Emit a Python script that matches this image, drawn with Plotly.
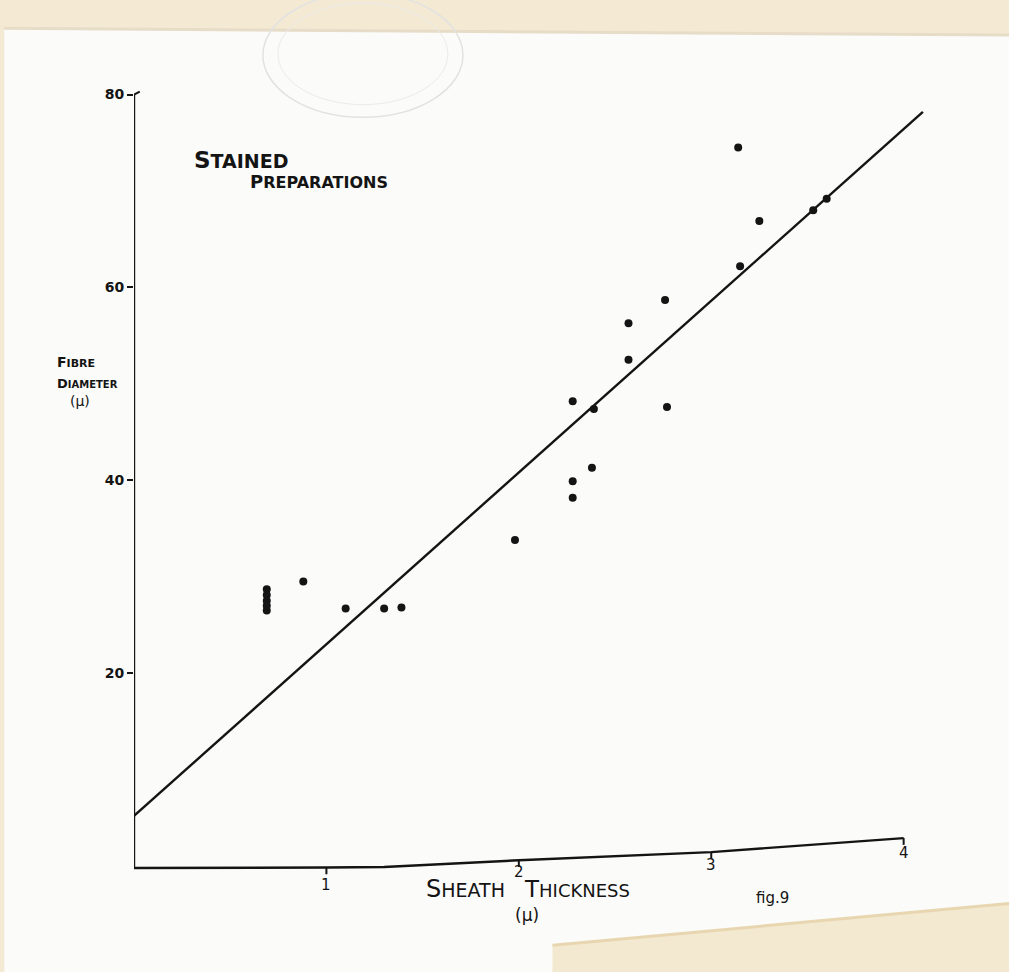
import plotly.graph_objects as go

# Sheath thickness (µ) against fibre diameter (µ), stained preparations
sheath = [0.69, 0.69, 0.69, 0.69, 0.69, 0.88, 1.10, 1.30, 1.39,
          1.98, 2.28, 2.28, 2.28, 2.38, 2.39, 2.57, 2.57, 2.76, 2.77,
          3.14, 3.15, 3.25, 3.53, 3.60]
diameter = [28.7, 28.1, 27.5, 27.0, 26.5, 29.5, 26.7, 26.7, 26.8,
            33.8, 48.2, 39.9, 38.2, 41.3, 47.4, 56.3, 52.5, 58.7, 47.6,
            74.5, 62.2, 66.9, 68.0, 69.2]

# fitted straight line
fit_x = [0.0, 4.10]
fit_y = [5.2, 78.2]

# hand-ruled abscissa (drifts upward toward the right)
axis_x = [0, 1, 1.3, 2, 3, 4]
axis_y = [-0.2, -0.15, -0.1, 0.6, 1.45, 2.9]
x_tick_vals = [1, 2, 3, 4]
x_tick_base = [-0.15, 0.6, 1.45, 2.9]
x_tick_labels = ["1", "2", "3", "4"]
x_label_y = [-2.0, -0.6, 0.1, 1.35]

y_ticks = [20, 40, 60, 80]

INK = "#141414"
FONT = "DejaVu Sans"

fig = go.Figure()

fig.add_trace(go.Scatter(x=fit_x, y=fit_y, mode="lines",
                         line=dict(color=INK, width=2.4),
                         hoverinfo="skip", cliponaxis=False))
fig.add_trace(go.Scatter(x=sheath, y=diameter, mode="markers",
                         marker=dict(color=INK, size=8),
                         cliponaxis=False))

shapes = []
# paper background tones
shapes.append(dict(type="path", xref="paper", yref="paper",
                   path="M -0.161 1.07 L 1.046 1.07 L 1.046 1.025 L -0.161 1.033 Z",
                   fillcolor="#f4e9d3", line=dict(width=0), layer="below"))
shapes.append(dict(type="line", xref="paper", yref="paper",
                   x0=-0.161, y0=1.033, x1=1.046, y1=1.025,
                   line=dict(color="#e6dcc8", width=3), layer="below"))
shapes.append(dict(type="path", xref="paper", yref="paper",
                   path="M 0.50 -0.095 L 0.50 -0.060 L 1.046 -0.010 L 1.046 -0.095 Z",
                   fillcolor="#f3e8d0", line=dict(width=0), layer="below"))
shapes.append(dict(type="line", xref="paper", yref="paper",
                   x0=0.50, y0=-0.060, x1=1.046, y1=-0.010,
                   line=dict(color="#e8d6b0", width=3), layer="below"))
shapes.append(dict(type="rect", xref="paper", yref="paper",
                   x0=-0.161, x1=-0.155, y0=-0.095, y1=1.07,
                   fillcolor="#f4e9d3", line=dict(width=0), layer="below"))
# faint library stamp
shapes.append(dict(type="circle", xref="paper", yref="paper",
                   x0=0.154, x1=0.393, y0=0.927, y1=1.075,
                   line=dict(color="#e2e2e2", width=1.5), layer="below"))
shapes.append(dict(type="circle", xref="paper", yref="paper",
                   x0=0.172, x1=0.375, y0=0.942, y1=1.063,
                   line=dict(color="#ebebeb", width=1), layer="below"))

# ordinate
shapes.append(dict(type="line", xref="x", yref="y", x0=0, y0=axis_y[0], x1=0, y1=80,
                   line=dict(color=INK, width=2.4)))
shapes.append(dict(type="line", xref="x", yref="y", x0=0, y0=80, x1=0.03, y1=80.3,
                   line=dict(color=INK, width=2)))
# abscissa
path = "M " + " L ".join(f"{a} {b}" for a, b in zip(axis_x, axis_y))
shapes.append(dict(type="path", xref="x", yref="y", path=path,
                   line=dict(color=INK, width=2.4)))
for xv, yv in zip(x_tick_vals, x_tick_base):
    shapes.append(dict(type="line", xref="x", yref="y", x0=xv, y0=yv, x1=xv, y1=yv - 0.7,
                       line=dict(color=INK, width=2)))

annotations = []
for lab, xv, yv in zip(x_tick_labels, x_tick_vals, x_label_y):
    annotations.append(dict(x=xv, y=yv, xref="x", yref="y", text=lab, showarrow=False,
                            font=dict(family=FONT, size=15, color=INK)))


def caps(word, big, small):
    return (f"<span style='font-size:{big}px'>{word[0]}</span>"
            f"<span style='font-size:{small}px'>{word[1:]}</span>")


def note(x, y, text, xanchor="center", data=False, **font):
    return dict(x=x, y=y, xref="x" if data else "paper", yref="y" if data else "paper",
                text=text, showarrow=False, xanchor=xanchor, yanchor="middle",
                font=dict(family=FONT, color=INK, **font))


annotations += [
    note(0.30, 73.2, "<b>" + caps("STAINED", 23, 19) + "</b>", "left", data=True),
    note(0.593, 71.0, "<b>" + caps("PREPARATIONS", 18, 16) + "</b>", "left", data=True),
    note(-0.094, 0.635, "<b>" + caps("FIBRE", 14, 11) + "</b>", "left"),
    note(-0.094, 0.610, "<b>" + caps("DIAMETER", 13, 10) + "</b>", "left"),
    note(-0.0645, 0.589, "(µ)", size=14),
    note(0.446, 0.0072, caps("SHEATH", 24, 19), "right"),
    note(0.464, 0.0072, caps("THICKNESS", 23, 18), "left"),
    note(0.4695, -0.0235, "(µ)", size=17),
    note(0.763, -0.0036, "fig.9", size=15),
]

fig.update_layout(
    width=1009, height=972,
    margin=dict(l=134, r=38, t=56, b=77),
    paper_bgcolor="#fbfbf9", plot_bgcolor="rgba(0,0,0,0)",
    showlegend=False,
    shapes=shapes, annotations=annotations,
    xaxis=dict(range=[0, 4.35], visible=False, showgrid=False, zeroline=False),
    yaxis=dict(range=[-3, 84], tickvals=y_ticks, ticks="outside", ticklen=6,
               tickwidth=2, tickcolor=INK, showline=False, showgrid=False,
               zeroline=False,
               tickfont=dict(family=FONT, size=14, color=INK, weight="bold")),
)

fig.write_html("out.html")
